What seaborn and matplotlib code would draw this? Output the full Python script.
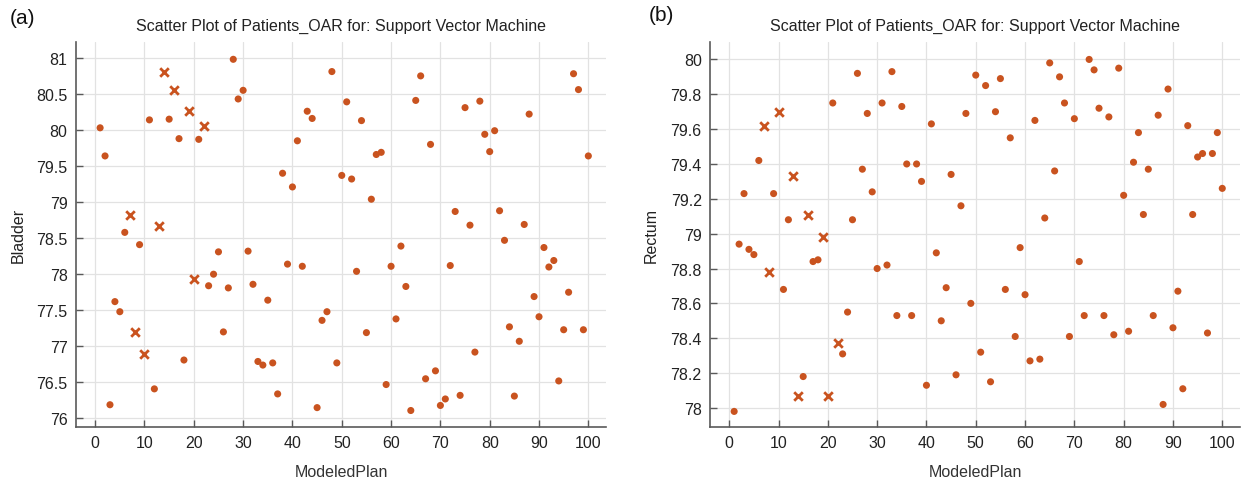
import matplotlib
matplotlib.use("Agg")
import matplotlib.pyplot as plt
import numpy as np
import pandas as pd
import seaborn as sns

# ModeledPlan index 1..100
plans = list(range(1, 101))

bladder = [
    80.03, 79.64, 76.19, 77.62, 77.48, 78.58, 78.82, 77.20, 78.41, 76.90,
    80.14, 76.41, 78.67, 80.81, 80.15, 80.55, 79.88, 76.81, 80.27, 77.93,
    79.87, 80.05, 77.84, 78.00, 78.31, 77.20, 77.81, 80.98, 80.43, 80.55,
    78.32, 77.86, 76.79, 76.74, 77.64, 76.77, 76.34, 79.40, 78.14, 79.21,
    79.85, 78.11, 80.26, 80.16, 76.15, 77.36, 77.48, 80.81, 76.77, 79.37,
    80.39, 79.32, 78.04, 80.13, 77.19, 79.04, 79.66, 79.69, 76.47, 78.11,
    77.38, 78.39, 77.83, 76.11, 80.41, 80.75, 76.55, 79.80, 76.66, 76.18,
    76.27, 78.12, 78.87, 76.32, 80.31, 78.68, 76.92, 80.40, 79.94, 79.70,
    79.99, 78.88, 78.47, 77.27, 76.31, 77.07, 78.69, 80.22, 77.69, 77.41,
    78.37, 78.10, 78.19, 76.52, 77.23, 77.75, 80.78, 80.56, 77.23, 79.64,
]

rectum = [
    77.98, 78.94, 79.23, 78.91, 78.88, 79.42, 79.62, 78.78, 79.23, 79.70,
    78.68, 79.08, 79.33, 78.07, 78.18, 79.11, 78.84, 78.85, 78.98, 78.07,
    79.75, 78.37, 78.31, 78.55, 79.08, 79.92, 79.37, 79.69, 79.24, 78.80,
    79.75, 78.82, 79.93, 78.53, 79.73, 79.40, 78.53, 79.40, 79.30, 78.13,
    79.63, 78.89, 78.50, 78.69, 79.34, 78.19, 79.16, 79.69, 78.60, 79.91,
    78.32, 79.85, 78.15, 79.70, 79.89, 78.68, 79.55, 78.41, 78.92, 78.65,
    78.27, 79.65, 78.28, 79.09, 79.98, 79.36, 79.90, 79.75, 78.41, 79.66,
    78.84, 78.53, 80.00, 79.94, 79.72, 78.53, 79.67, 78.42, 79.95, 79.22,
    78.44, 79.41, 79.58, 79.11, 79.37, 78.53, 79.68, 78.02, 79.83, 78.46,
    78.67, 78.11, 79.62, 79.11, 79.44, 79.46, 78.43, 79.46, 79.58, 79.26,
]

# plans drawn with a cross instead of a dot
crossed = [7, 8, 10, 13, 14, 16, 19, 20, 22]

title = "Scatter Plot of Patients_OAR for: Support Vector Machine"
color = "#C9531F"

sns.set_theme(style="whitegrid")
plt.rcParams["font.family"] = ["Liberation Sans", "DejaVu Sans"]

fig = plt.figure(figsize=(12.43, 4.81), dpi=100)
ax_a = fig.add_axes([0.0611, 0.110, 0.4265, 0.8006])
ax_b = fig.add_axes([0.5712, 0.110, 0.4264, 0.8006])


def draw_panel(ax, values, ylabel, yticks, ylim):
    df = pd.DataFrame({"ModeledPlan": plans, ylabel: values})
    df["kind"] = np.where(df["ModeledPlan"].isin(crossed), "x", "o")
    dots = df[df["kind"] == "o"]
    crosses = df[df["kind"] == "x"]
    sns.scatterplot(data=dots, x="ModeledPlan", y=ylabel, ax=ax,
                    color=color, marker="o", s=26, edgecolor="none", zorder=3)
    sns.scatterplot(data=crosses, x="ModeledPlan", y=ylabel, ax=ax,
                    color=color, marker="x", s=38, linewidth=2.0, zorder=3)

    ax.set_xlim(-3.9, 103.6)
    ax.set_ylim(*ylim)
    ax.set_xticks(range(0, 101, 10))
    ax.set_yticks(yticks)
    ax.set_yticklabels([f"{v:g}" for v in yticks])

    ax.grid(True, color="#E2E2E2", linewidth=0.9)
    ax.set_facecolor("white")
    for side in ["top", "right"]:
        ax.spines[side].set_visible(False)
    for side in ["left", "bottom"]:
        ax.spines[side].set_visible(True)
        ax.spines[side].set_color("#5A5A5A")
        ax.spines[side].set_linewidth(1.2)
    ax.tick_params(axis="both", direction="in", length=5, width=1.0,
                   color="#5A5A5A", labelsize=11.5, labelcolor="#222222",
                   left=True, bottom=True, pad=6)

    ax.set_xlabel("ModeledPlan", fontsize=11.5, color="#333333", labelpad=10)
    ax.set_ylabel(ylabel, fontsize=11.5, color="#222222", labelpad=8)
    ax.set_title(title, fontsize=11.5, color="#222222", pad=9)


draw_panel(ax_a, bladder, "Bladder", np.arange(76, 81.01, 0.5), (75.88, 81.22))
draw_panel(ax_b, rectum, "Rectum", np.round(np.arange(78, 80.01, 0.2), 1), (77.89, 80.10))

fig.text(0.008, 0.962, "(a)", fontsize=15, color="#111111", va="center")
fig.text(0.522, 0.967, "(b)", fontsize=15, color="#111111", va="center")

fig.savefig("out.png", dpi=100)
